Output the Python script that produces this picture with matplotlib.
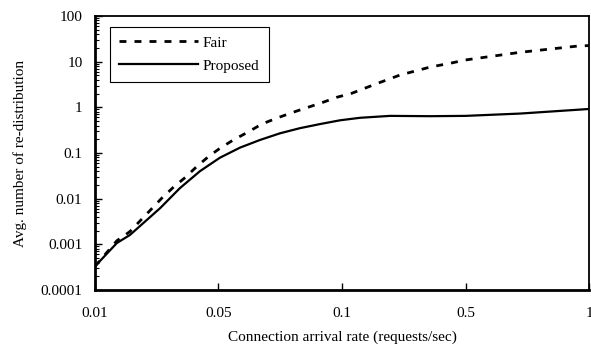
import matplotlib
matplotlib.use("Agg")
import matplotlib.pyplot as plt
import numpy as np

# x axis: tick labels are evenly spaced in the original figure
tick_rates = [0.01, 0.05, 0.1, 0.5, 1]
tick_labels = ["0.01", "0.05", "0.1", "0.5", "1"]

# values
fair_rate = [0.01, 0.0171, 0.0213, 0.0316, 0.0354, 0.0392, 0.0429, 0.0467,
             0.0506, 0.056, 0.0621, 0.0675, 0.0736, 0.0796, 0.0857, 0.0918,
             0.0979, 0.1316, 0.207, 0.288, 0.385, 0.456, 0.5, 0.72, 0.955, 1.0]
fair = [0.00033, 0.0012, 0.0019, 0.0102, 0.0178, 0.029, 0.050, 0.083,
        0.127, 0.193, 0.29, 0.43, 0.58, 0.76, 0.98, 1.26,
        1.66, 2.03, 3.2, 5.1, 7.6, 9.4, 10.9, 16, 22, 22.5]

prop_rate = [0.01, 0.0171, 0.0213, 0.0311, 0.0375, 0.044, 0.0506, 0.0587,
             0.0668, 0.0749, 0.083, 0.0911, 0.0992, 0.1583, 0.2555, 0.385,
             0.5, 0.72, 1.0]
proposed = [0.00033, 0.00107, 0.0016, 0.0062, 0.017, 0.040, 0.079, 0.131,
            0.193, 0.27, 0.35, 0.43, 0.52, 0.59, 0.65, 0.64,
            0.65, 0.73, 0.92]

y_ticks = [0.0001, 0.001, 0.01, 0.1, 1, 10, 100]
y_labels = ["0.0001", "0.001", "0.01", "0.1", "1", "10", "100"]

positions = np.arange(len(tick_rates))


def fwd(x):
    return np.interp(x, tick_rates, positions)


def inv(p):
    return np.interp(p, positions, tick_rates)


plt.rcParams['font.family'] = ['Liberation Serif', 'DejaVu Serif']
plt.rcParams['font.size'] = 11

fig = plt.figure(figsize=(5.91, 3.54), dpi=100)
ax = fig.add_axes([0.1607, 0.1808, 0.836, 0.774])

ax.plot(fair_rate, fair, color='black', lw=2.0, ls=(0, (2.5, 2.9)), label='Fair')
ax.plot(prop_rate, proposed, color='black', lw=1.6, label='Proposed')

ax.set_xscale('function', functions=(fwd, inv))
ax.set_yscale('log')
ax.set_xlim(0.01, 1)
ax.set_ylim(0.0001, 100)

ax.set_xticks(tick_rates)
ax.set_xticklabels(tick_labels)
ax.xaxis.set_minor_locator(matplotlib.ticker.NullLocator())
ax.set_yticks(y_ticks)
ax.set_yticklabels(y_labels)
ax.yaxis.set_minor_locator(matplotlib.ticker.LogLocator(base=10, subs=np.arange(2, 10)))
ax.yaxis.set_minor_formatter(matplotlib.ticker.NullFormatter())

ax.tick_params(axis='x', which='major', direction='in', length=5, width=1, pad=12)
ax.tick_params(axis='y', which='major', direction='in', length=5, width=1, pad=9)
ax.tick_params(axis='y', which='minor', direction='in', length=3, width=0.8)

for side in ['left', 'bottom']:
    ax.spines[side].set_linewidth(2.0)
for side in ['top', 'right']:
    ax.spines[side].set_linewidth(1.3)

ax.set_xlabel('Connection arrival rate (requests/sec)', labelpad=8)
ax.set_ylabel('Avg. number of re-distribution', labelpad=10)

leg = ax.legend(loc='upper left', bbox_to_anchor=(0.03, 0.96), handlelength=5.2,
                handletextpad=0.3, borderpad=0.6, labelspacing=0.6,
                fancybox=False, framealpha=1, borderaxespad=0)
leg.get_frame().set_edgecolor('black')
leg.get_frame().set_linewidth(0.8)

fig.savefig('out.png', dpi=100)
